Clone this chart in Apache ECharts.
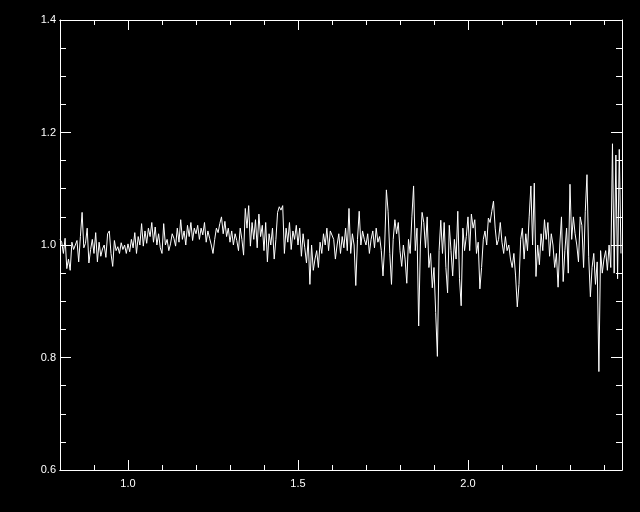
<!DOCTYPE html>
<html>
<head>
<meta charset="utf-8">
<script src="https://cdn.jsdelivr.net/npm/echarts@6/dist/echarts.min.js"></script>
<style>
html,body{margin:0;padding:0;background:#000;}
#chart{width:640px;height:512px;}
</style>
</head>
<body>
<div id="chart"></div>
<script>
// Wavelength grid (microns): uniform sampling
var WAVE_START = 0.80;
var WAVE_STEP = 0.005;

// Ratio values, in blocks of 0.1 micron
var seg080 = [1.010,1.005,0.985,1.012,0.958,0.975,0.955,1.005,0.992,1.000,1.008,0.970,1.015,1.058,0.995,1.003,1.030,0.968,0.992,1.010];
var seg090 = [0.985,1.022,0.970,1.005,0.980,0.993,1.000,0.978,1.020,1.025,0.985,0.962,1.008,0.990,0.997,0.985,1.004,0.992,1.000,0.985];
var seg100 = [1.002,0.988,1.010,0.995,1.022,0.985,1.015,1.000,1.038,0.998,1.025,1.003,1.030,1.015,1.040,1.005,1.032,1.000,1.020,0.995];
var seg110 = [0.985,1.038,1.000,1.010,0.990,1.002,1.020,1.012,0.998,1.030,1.005,1.045,1.010,1.025,1.000,1.035,1.015,1.040,1.008,1.030];
var seg120 = [1.020,1.035,1.010,1.030,1.018,1.040,1.005,1.025,1.012,1.000,0.985,1.010,1.030,1.022,1.038,1.050,1.020,1.042,1.015,1.030];
var seg130 = [1.005,1.025,1.000,1.020,1.008,0.990,1.030,1.010,0.982,1.065,1.030,1.070,0.998,1.040,1.010,1.045,0.995,1.055,1.015,1.035];
var seg140 = [0.990,1.040,0.970,1.020,1.000,1.030,0.975,1.010,1.058,1.068,1.062,1.070,0.985,1.030,1.005,1.040,0.992,1.025,1.010,1.035];
var seg150 = [1.000,1.030,0.980,1.020,0.995,0.968,1.010,0.930,1.000,0.955,0.975,0.990,0.960,1.005,0.985,1.020,1.000,1.030,0.990,1.025];
var seg160 = [1.025,1.010,0.975,1.000,1.020,0.985,1.015,0.995,1.030,0.990,1.065,0.985,1.020,1.000,0.928,1.010,1.060,1.000,1.025,1.010];
var seg170 = [1.000,1.020,0.985,1.010,1.025,0.995,1.030,1.005,1.015,0.990,0.945,1.000,1.098,1.060,0.985,0.930,1.010,1.045,1.020,1.040];
var seg180 = [0.990,0.962,1.000,0.975,0.932,1.010,0.985,1.050,1.105,0.990,1.030,0.856,1.000,1.058,1.040,0.995,1.050,0.960,0.985,0.924];
var seg190 = [0.960,0.880,0.802,0.990,1.044,0.985,1.040,0.960,0.915,1.035,0.990,0.945,1.010,0.975,1.060,0.940,0.892,1.030,0.990,1.015];
var seg200 = [1.050,0.990,1.055,1.030,1.045,0.985,1.005,0.922,0.960,1.010,1.025,1.000,1.048,1.040,1.060,1.078,1.030,1.000,1.010,1.040];
var seg210 = [1.005,0.985,1.015,0.990,1.000,0.975,0.960,0.985,0.945,0.890,0.930,1.010,1.030,0.975,1.020,0.990,1.050,1.105,1.000,1.110];
var seg220 = [0.944,1.000,0.965,1.020,0.990,1.045,1.010,1.040,0.980,1.020,1.000,0.960,0.985,0.925,1.000,1.050,0.935,0.990,1.030,0.950];
var seg230 = [1.108,1.010,1.050,1.020,1.000,0.970,1.050,1.035,0.960,1.060,1.125,0.980,0.908,0.960,0.985,0.930,0.970,0.775,0.990,0.950];
var seg240 = [0.975,0.990,0.955,1.000,0.960,1.180,0.950,1.160,0.940,1.170,0.985];

// Axis ticks and labels
var X_MIN = 0.80, X_MAX = 2.453;
var Y_MIN = 0.6, Y_MAX = 1.4;
var xMajorTicks = [1.0, 1.5, 2.0];
var xMinorTicks = [0.9, 1.1, 1.2, 1.3, 1.4, 1.6, 1.7, 1.8, 1.9, 2.1, 2.2, 2.3, 2.4];
var yMajorTicks = [0.6, 0.8, 1.0, 1.2, 1.4];

var values = [].concat(seg080, seg090, seg100, seg110, seg120, seg130, seg140, seg150,
  seg160, seg170, seg180, seg190, seg200, seg210, seg220, seg230, seg240);
var data = values.map(function (v, i) {
  return [+(WAVE_START + i * WAVE_STEP).toFixed(4), v];
});

var FONT = '"Liberation Sans", "DejaVu Sans", sans-serif';
var white = '#ffffff';

function xAxis(pos, ticks, len, labels) {
  return {
    type: 'value', position: pos, min: X_MIN, max: X_MAX,
    axisLine: { show: true, lineStyle: { color: white, width: 1 } },
    axisTick: { show: true, inside: true, length: len, customValues: ticks, lineStyle: { color: white, width: 1 } },
    axisLabel: labels ? { show: true, customValues: xMajorTicks, color: white, fontFamily: FONT, fontSize: 11, margin: 8,
      formatter: function (v) { return v.toFixed(1); } } : { show: false },
    splitLine: { show: false }
  };
}
function yAxis(pos, labels) {
  return {
    type: 'value', position: pos, min: Y_MIN, max: Y_MAX, interval: 0.2,
    axisLine: { show: true, lineStyle: { color: white, width: 1 } },
    axisTick: { show: true, inside: true, length: 11, lineStyle: { color: white, width: 1 } },
    minorTick: { show: true, splitNumber: 4, length: 6, lineStyle: { color: white, width: 1 } },
    axisLabel: labels ? { show: true, color: white, fontFamily: FONT, fontSize: 11, margin: 4,
      formatter: function (v) { return v.toFixed(1); } } : { show: false },
    splitLine: { show: false }
  };
}

var chart = echarts.init(document.getElementById('chart'), null, { renderer: 'canvas' });
chart.setOption({
  backgroundColor: '#000000',
  animation: false,
  grid: { left: 60, right: 18, top: 20, bottom: 42, containLabel: false },
  xAxis: [
    xAxis('bottom', xMajorTicks, 10, true),
    xAxis('bottom', xMinorTicks, 5, false),
    xAxis('top', xMajorTicks, 10, false),
    xAxis('top', xMinorTicks, 5, false)
  ],
  yAxis: [yAxis('left', true), yAxis('right', false)],
  series: [{
    type: 'line', xAxisIndex: 0, yAxisIndex: 0, data: data,
    showSymbol: false, symbol: 'none',
    lineStyle: { color: white, width: 1 }
  }]
});
</script>
</body>
</html>
